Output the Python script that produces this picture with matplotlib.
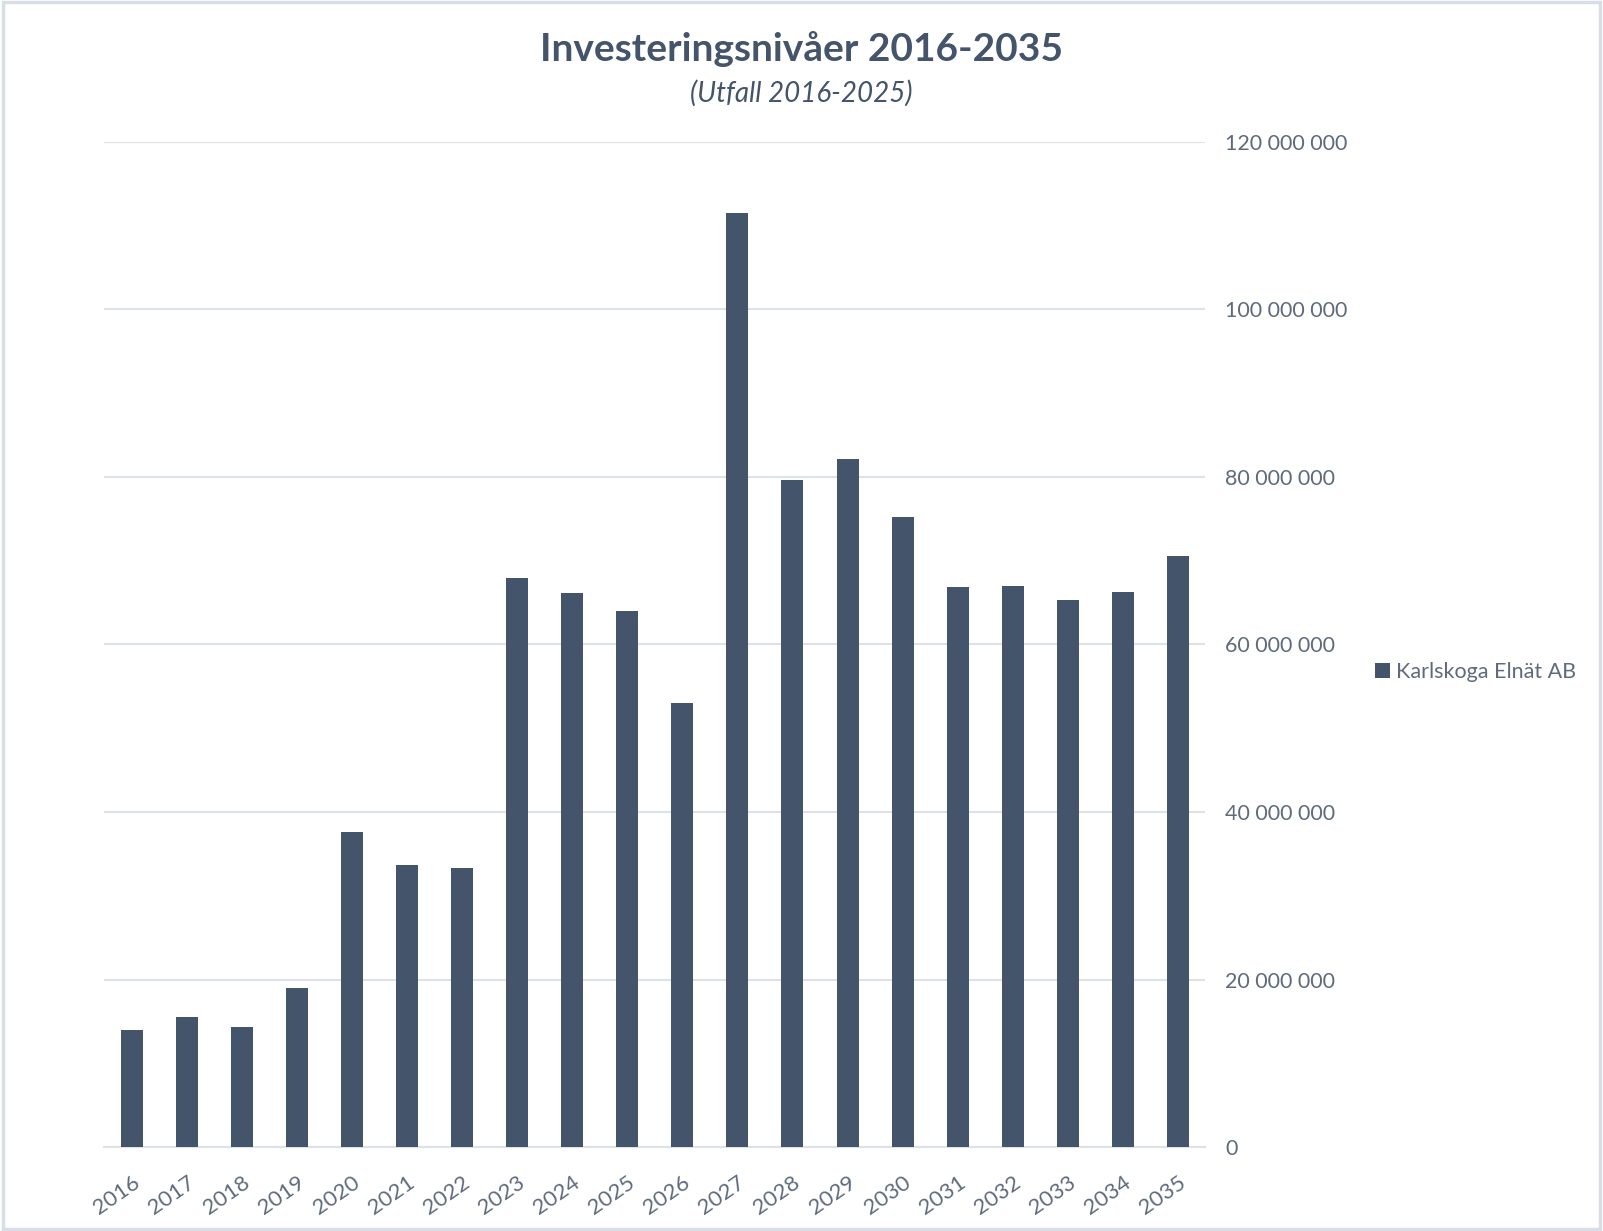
import numpy as np
import matplotlib.pyplot as plt
from matplotlib.ticker import FuncFormatter
from matplotlib.patches import Rectangle

# data
years = ['2016', '2017', '2018', '2019', '2020', '2021', '2022', '2023', '2024', '2025',
         '2026', '2027', '2028', '2029', '2030', '2031', '2032', '2033', '2034', '2035']
investments = [14.0e6, 15.6e6, 14.3e6, 19.0e6, 37.6e6, 33.7e6, 33.3e6, 67.9e6, 66.1e6, 64.0e6,
               53.0e6, 111.5e6, 79.6e6, 82.1e6, 75.2e6, 66.8e6, 67.0e6, 65.3e6, 66.2e6, 70.6e6]
series_name = 'Karlskoga Elnät AB'
title = 'Investeringsnivåer 2016-2035'
subtitle = '(Utfall 2016-2025)'

bar_color = '#44546A'
text_color = '#44546A'
tick_color = '#5F6B7D'
grid_color = '#DDE1E8'

plt.rcParams['font.family'] = ['Lato', 'DejaVu Sans']

fig = plt.figure(figsize=(16.03, 12.31), dpi=100)
ax = fig.add_axes([0.065, 0.068, 0.687, 0.817])

x = np.arange(len(years))
ax.bar(x, investments, width=0.4, color=bar_color, label=series_name, zorder=3)

ax.set_xlim(-0.5, len(years) - 0.5)
ax.set_ylim(0, 120e6)
ax.set_yticks(np.arange(0, 120e6 + 1, 20e6))
ax.yaxis.set_major_formatter(FuncFormatter(lambda v, p: f'{int(v):,}'.replace(',', ' ')))
ax.yaxis.tick_right()
ax.tick_params(axis='y', length=0, pad=14, labelsize=15.5, labelcolor=tick_color)
ax.tick_params(axis='x', length=0, pad=18, labelsize=16, labelcolor=tick_color)
ax.set_xticks(x)
ax.set_xticklabels(years, rotation=35, ha='right', rotation_mode='anchor')

ax.grid(axis='y', color=grid_color, linewidth=1.5, zorder=0)
for side in ['top', 'right', 'left']:
    ax.spines[side].set_visible(False)
ax.spines['bottom'].set_color(grid_color)
ax.spines['bottom'].set_linewidth(1.5)

fig.text(0.5, 0.96, title, ha='center', va='center', fontsize=28,
         fontweight='bold', color=text_color)
fig.text(0.5, 0.924, subtitle, ha='center', va='center', fontsize=20,
         style='italic', color=text_color)

fig.legend(loc='center left', bbox_to_anchor=(0.858, 0.454), frameon=False,
           fontsize=15.5, labelcolor=tick_color, handlelength=0.7, handleheight=0.7,
           handletextpad=0.25, borderaxespad=0, borderpad=0)

# light frame around the chart area
fig.patches.append(Rectangle((0.002, 0.002), 0.996, 0.996, transform=fig.transFigure,
                             fill=False, edgecolor='#D9DEE6', linewidth=2.5))

fig.savefig('out.png', dpi=100)
